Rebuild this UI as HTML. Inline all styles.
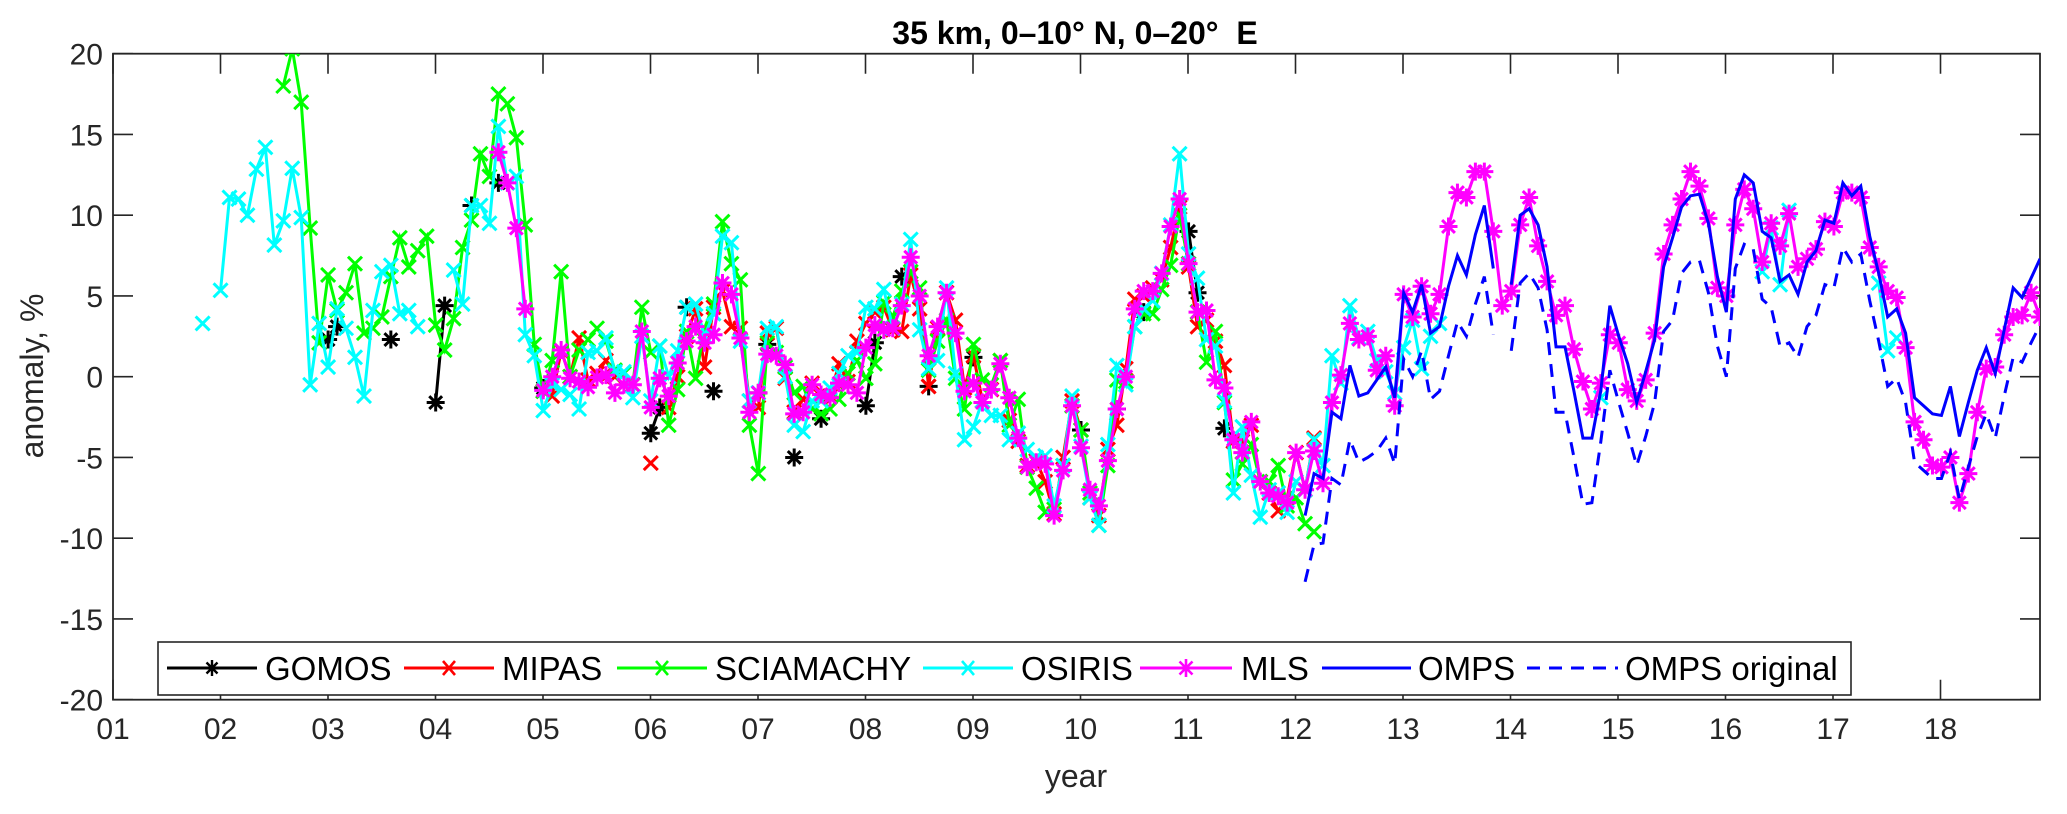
<!DOCTYPE html>
<html lang="en">
<head>
<meta charset="utf-8">
<title>35 km, 0–10° N, 0–20° E</title>
<style>
html,body{margin:0;padding:0;background:#fff;}
body{width:2067px;height:814px;overflow:hidden;}
svg{display:block;font-family:"Liberation Sans",Arial,sans-serif;}
</style>
</head>
<body>
<svg id="chart" xmlns="http://www.w3.org/2000/svg" width="2067" height="814" viewBox="0 0 2067 814">
  <defs><clipPath id="plot-clip"><rect x="113" y="53.7" width="1927" height="646"></rect></clipPath></defs>
  <rect x="0" y="0" width="2067" height="814" fill="#fff"></rect>
  <text x="1075" y="44" text-anchor="middle" font-size="32" font-weight="bold" fill="#000" xml:space="preserve">35 km, 0–10° N, 0–20°&#160; E</text>
  <g id="axes"></g>
  <g id="series" clip-path="url(#plot-clip)"></g>
  <text x="1076" y="787" text-anchor="middle" font-size="32" fill="#262626">year</text>
  <text transform="translate(43 376) rotate(-90)" text-anchor="middle" font-size="32" fill="#262626">anomaly, %</text>
  <g>
    <rect x="158" y="642" width="1693" height="53" fill="#fff" stroke="#262626" stroke-width="1.6"></rect>
    <g>
      <path d="M167 668H257" stroke="#000" stroke-width="3" fill="none"></path>
      <path d="M212 660V676M205 668H219M206.5 662.5L217.5 673.5M206.5 673.5L217.5 662.5" stroke="#000" stroke-width="2.4" fill="none"></path>
      <text x="265" y="680" font-size="33" fill="#000">GOMOS</text>
    </g>
    <g>
      <path d="M404 668H494" stroke="#f00" stroke-width="3" fill="none"></path>
      <path d="M443 661L455 675M443 675L455 661" stroke="#f00" stroke-width="2.6" fill="none"></path>
      <text x="502" y="680" font-size="33" fill="#000">MIPAS</text>
    </g>
    <g>
      <path d="M617 668H707" stroke="#0f0" stroke-width="3" fill="none"></path>
      <path d="M656 661L668 675M656 675L668 661" stroke="#0f0" stroke-width="2.6" fill="none"></path>
      <text x="715" y="680" font-size="33" fill="#000">SCIAMACHY</text>
    </g>
    <g>
      <path d="M923 668H1013" stroke="#0ff" stroke-width="3" fill="none"></path>
      <path d="M962 661L974 675M962 675L974 661" stroke="#0ff" stroke-width="2.6" fill="none"></path>
      <text x="1021" y="680" font-size="33" fill="#000">OSIRIS</text>
    </g>
    <g>
      <path d="M1140 668H1232" stroke="#f0f" stroke-width="3" fill="none"></path>
      <path d="M1186 659V677M1177 668H1195M1179.5 661.5L1192.5 674.5M1179.5 674.5L1192.5 661.5" stroke="#f0f" stroke-width="2.6" fill="none"></path>
      <text x="1241" y="680" font-size="33" fill="#000">MLS</text>
    </g>
    <g>
      <path d="M1322 668H1411" stroke="#00f" stroke-width="3" fill="none"></path>
      <text x="1418" y="680" font-size="33" fill="#000">OMPS</text>
    </g>
    <g>
      <path d="M1527 668H1618" stroke="#00f" stroke-width="3" stroke-dasharray="13 9" fill="none"></path>
      <text x="1625" y="680" font-size="33" fill="#000">OMPS original</text>
    </g>
  </g>
</svg>
<script>
const xTickYears = [1,2,3,4,5,6,7,8,9,10,11,12,13,14,15,16,17,18];
const xTickLabels = ['01','02','03','04','05','06','07','08','09','10','11','12','13','14','15','16','17','18'];
const yTickValues = [-20,-15,-10,-5,0,5,10,15,20];
const yTickLabels = ['-20','-15','-10','-5','0','5','10','15','20'];

const gomosMonths = [24,25,31,36,37,40,43,48,60,61,64,67,72,73,76,79,84,85,88,91,96,108,112,115,120,121,124];
const gomosValues = [2.3,3.1,2.3,-1.6,4.4,10.6,12,-0.7,-3.5,-1.9,4.3,-0.9,-1,2,-5,-2.6,-1.8,2.1,6.2,-0.6,1.2,-3.3,-2,4,9,5.2,-3.2];

const mipasStart = 48;
const mipasValues = [-0.9,-1.2,1.6,0,2.4,-0.2,0.2,1,0,-0.5,-0.5,null,-5.35,null,-1.9,0,2.5,4.2,0.6,4.3,5.3,3.1,3,-1.5,-1.9,2.7,3,-0.1,-2.2,-1.4,-0.4,-1.2,-1.2,0.8,-0.3,2.2,3.3,4,4.3,2.9,2.8,6.3,4.2,-0.6,3,5.2,3.5,-0.7,1.3,-1.5,-0.8,1,-2.7,-4,-5.5,-5.2,-6.5,-8.5,-5,-1.5,-3.3,-7.5,-8.6,-4.5,-3,0.5,4.8,5,5.5,6,8,10.5,6.8,3.1,3.5,2.2,0.7,-4,-4,-3,-6.5,-7.2,-8.3,-7.5,-4.7,-7,-3.8];

const sciamachyStart = 19;
const sciamachyValues = [18,20.3,17,9.2,2.1,6.3,4.1,5.2,7,2.7,3,3.7,6.2,8.6,6.8,7.8,8.7,3.2,1.65,3.6,8,9.7,13.8,12.4,17.5,16.9,14.8,9.4,2,-0.9,1,6.5,0,1.65,2.3,3,2.2,0.4,0.2,-0.5,4.3,1.5,1.9,-3,-0.8,2.8,-0.1,3,4.5,9.6,7,6,-3,-6,2.1,1.5,0.6,-1,-0.6,-2,-2.3,-2,-1.4,0.2,1,-0.1,0.8,4.6,3.7,5.3,6.5,5.5,0.4,2.2,3.5,-0.1,-2,2,-0.2,-0.5,1,-3,-1.4,-5.6,-6.9,-8.4,-8.2,-5.5,-1.8,-3.3,-7.2,-9.2,-5.5,-0.2,-0.3,3.1,3.9,3.9,5.4,6.9,10,7,4,0.9,2.8,-1.6,-6.4,-5.4,-4.2,-6.5,-6.5,-5.5,-8,-7.5,-9.1,-9.6];

const osirisStart = 10;
const osirisValues = [3.3,null,5.35,11.1,11,10,12.85,14.2,8.15,9.65,12.9,9.85,-0.5,3.3,0.6,4.2,3,1.2,-1.2,4.1,6.5,6.9,3.9,4.1,3.1,null,null,null,6.6,4.5,10.6,10.6,9.5,15.5,12,12.4,2.6,1.3,-2.1,-0.5,-0.8,-1.1,-2,1.5,1.6,2.4,0.3,0.3,-1.3,2.5,-1.5,1.9,0,1.6,4.3,4.5,2.5,3.9,8.7,8.3,2.2,-1.5,-1,3,3.1,0,-3,-3.4,-1.5,-1.5,-0.7,0.2,1.3,1.5,4.3,4.2,5.4,3,4.5,8.5,2.9,0.5,1,5.5,0.2,-3.9,-3.1,-1.5,-2.4,-2.4,-3.9,-3.5,-4.5,-5,-4.9,-8,-5.5,-1.2,-4.3,-7.5,-9.2,-4.2,0.7,-0.5,3.1,4.2,4.7,6.4,9.4,13.8,7.6,6.1,2.3,1.9,-1.5,-7.2,-3.1,-6.1,-8.7,-7,-7.2,-8.4,-6.5,-7,-3.9,-5.5,1.3,-0.4,4.4,2.4,2.8,1,0.3,-1,1.8,3.5,0.5,2.5,3.3,null,null,null,null,null,null,null,null,null,null,null,null,null,null,null,null,null,-1.3,null,null,null,null,null,null,null,null,null,null,null,null,null,null,null,null,null,6.5,9.2,5.7,10.3,null,null,null,null,null,null,null,null,null,5.8,1.6,2.4];

const mlsStart = 43;
const mlsValues = [13.9,12,9.2,4.2,null,-0.85,0,1.65,-0.1,-0.3,-0.65,-0.05,0.1,-1,-0.5,-0.5,2.8,-1.9,-0.1,-1.2,0.85,2.2,3.1,2.1,2.6,5.8,5.1,2.4,-2.2,-1,1.4,1.3,0.75,-2.3,-2.2,-0.5,-1.1,-1.3,-0.4,-0.5,-1,1.8,3.2,2.9,3,4.4,7.4,5,1.3,3.1,5.2,2.7,-0.9,-0.4,-1.6,-0.8,0.8,-1.3,-3.8,-5.6,-5.3,-5.4,-8.6,-5.8,-1.8,-4.4,-7,-8,-5.2,-2,0,4.2,5.3,5.3,6.4,9.3,11,7,4,4.1,-0.2,-0.7,-3.9,-4.7,-2.8,-6.5,-7.2,-7.4,-7.8,-4.7,-7,-4.6,-6.6,-1.6,0.1,3.3,2.3,2.5,0.4,1.3,-1.8,5.1,3.7,5.6,3.9,5.1,9.3,11.4,11.1,12.7,12.7,9,4.4,5.3,9.4,11.1,8.1,5.9,3.8,4.4,1.7,-0.3,-2,-0.4,2.6,2.1,-0.8,-1.5,-0.2,2.7,7.6,9.4,11,12.7,11.8,9.8,5.5,5,9.4,11.6,10.4,7.1,9.5,8.1,10.1,6.8,7.3,7.9,9.6,9.3,11.4,11.4,11.1,8,6.8,5.3,4.9,1.8,-2.8,-3.9,-5.5,-5.6,-5,-7.8,-6,-2.2,0.5,0.6,2.6,3.7,3.8,5.2,3.7];

const ompsStart = 133;
const ompsValues = [-8.6,-6,-6.3,-2.2,-2.6,0.7,-1.2,-1,-0.2,0.6,-1.3,5.2,4,5.7,2.7,3.1,5.6,7.5,6.3,8.8,10.6,6.7,null,5.7,10,10.4,9.4,6.8,1.85,1.85,-0.9,-3.8,-3.8,-0.85,4.4,2.5,0.8,-1.6,0.3,2.3,6.8,8.6,10.5,11.2,11.3,9.5,6.2,4,11,12.5,12,9,8.6,5.9,6.3,5.1,7.1,7.8,9.7,9.5,12,11.2,11.8,8.7,6.4,3.7,4.2,2.7,-1.3,-1.8,-2.3,-2.4,-0.6,-3.7,-1.6,0.4,1.8,0.2,2.9,5.5,4.9,6.1,7.3];

const ompsOriginalStart = 133;
const ompsOriginalValues = [-12.7,-10.4,-10.3,-6.3,-6.7,-3.9,-5.3,-5,-4.6,-3.8,-5.4,1.1,0,1.6,-1.4,-0.9,1.3,3.4,2.5,4.5,6.2,2.6,null,1.6,5.8,6.4,5.5,2.9,-2.2,-2.2,-5,-7.9,-7.8,-4,0.4,-1.6,-3.5,-5.5,-3.7,-1.6,2.8,3.5,6.4,7.1,7.2,5.2,1.9,0,6.7,8.2,7.9,4.8,4.3,1.85,2.1,1.2,3.1,3.8,5.7,5.5,8,7.1,7.6,4.7,2.2,-0.6,-0.1,-1.6,-5.3,-5.8,-6.3,-6.3,-4.7,-7.6,-5.6,-3.7,-2.3,-3.8,-1.2,1.2,0.9,2.1,3.2];

const NS = 'http://www.w3.org/2000/svg';
const xLeft = 113, xRight = 2040, yTop = 53.7, yBottom = 699.7;
const axisInk = '#262626';
function xOfYear(t){ return xLeft + (t - 1) * 107.5; }
function xOfMonth(m){ return xLeft + m * 8.963; }
function yOfValue(v){ return 376.7 - v * 16.15; }
function svgEl(tag, attrs){
  const el = document.createElementNS(NS, tag);
  for (const k in attrs) el.setAttribute(k, attrs[k]);
  return el;
}
const axes = document.getElementById('axes');
const seriesLayer = document.getElementById('series');

const frame = svgEl('rect', {x:xLeft, y:yTop, width:xRight-xLeft, height:yBottom-yTop, fill:'none', stroke:axisInk, 'stroke-width':1.8});


axes.appendChild(frame);

xTickYears.forEach(function(yr, i){
  const x = xOfYear(yr);
  const tick = svgEl('path', {d:'M'+x+' '+yBottom+'V'+(yBottom-20)+'M'+x+' '+yTop+'V'+(yTop+20), stroke:axisInk, 'stroke-width':1.6, fill:'none'});
  
  
  axes.appendChild(tick);
  const lab = svgEl('text', {x:x, y:739, 'text-anchor':'middle', 'font-size':30, fill:axisInk});
  lab.textContent = xTickLabels[i];
  
  
  axes.appendChild(lab);
});
yTickValues.forEach(function(v, i){
  const y = yOfValue(v);
  const tick = svgEl('path', {d:'M'+xLeft+' '+y+'H'+(xLeft+20)+'M'+xRight+' '+y+'H'+(xRight-20), stroke:axisInk, 'stroke-width':1.6, fill:'none'});
  
  
  axes.appendChild(tick);
  const lab = svgEl('text', {x:103, y:y+11, 'text-anchor':'end', 'font-size':30, fill:axisInk});
  lab.textContent = yTickLabels[i];
  
  
  axes.appendChild(lab);
});

const crossGlyph = 'M-7-7L7 7M-7 7L7-7';
const starGlyph = 'M0-9V9M-9 0H9M-6.4-6.4L6.4 6.4M-6.4 6.4L6.4-6.4';

function drawSeries(name, months, values, colour, glyph, dash){
  const g = svgEl('g', {});
  
  
  let d = '', prev = null;
  values.forEach(function(v, i){
    if (v === null) { prev = null; return; }
    const m = months[i];
    d += (prev !== null && m === prev + 1 ? 'L' : 'M') + xOfMonth(m).toFixed(2) + ' ' + yOfValue(v).toFixed(2);
    prev = m;
  });
  const line = svgEl('path', {d:d, fill:'none', stroke:colour, 'stroke-width':3, 'stroke-linejoin':'miter'});
  if (dash) line.setAttribute('stroke-dasharray', dash);
  
  
  g.appendChild(line);
  if (glyph) {
    values.forEach(function(v, i){
      if (v === null) return;
      const mk = svgEl('path', {d:glyph, fill:'none', stroke:colour, 'stroke-width':3, transform:'translate('+xOfMonth(months[i]).toFixed(2)+' '+yOfValue(v).toFixed(2)+')'});
      
      
      g.appendChild(mk);
    });
  }
  seriesLayer.appendChild(g);
}
function monthsFrom(start, values){
  return values.map(function(_, i){ return start + i; });
}
drawSeries('gomos', gomosMonths, gomosValues, '#000', starGlyph);
drawSeries('mipas', monthsFrom(mipasStart, mipasValues), mipasValues, '#f00', crossGlyph);
drawSeries('sciamachy', monthsFrom(sciamachyStart, sciamachyValues), sciamachyValues, '#0f0', crossGlyph);
drawSeries('osiris', monthsFrom(osirisStart, osirisValues), osirisValues, '#0ff', crossGlyph);
drawSeries('mls', monthsFrom(mlsStart, mlsValues), mlsValues, '#f0f', starGlyph);
drawSeries('omps', monthsFrom(ompsStart, ompsValues), ompsValues, '#00f', null);
drawSeries('omps-original', monthsFrom(ompsOriginalStart, ompsOriginalValues), ompsOriginalValues, '#00f', null, '13 9');
</script>
</body>
</html>
